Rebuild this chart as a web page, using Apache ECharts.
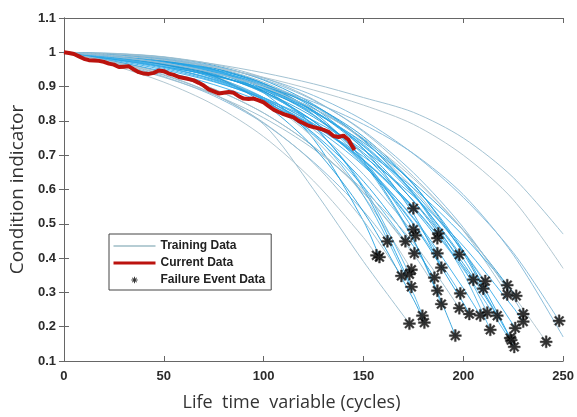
<!DOCTYPE html>
<html><head><meta charset="utf-8">
<script src="https://cdn.jsdelivr.net/npm/echarts@6/dist/echarts.min.js"></script>
<style>html,body{margin:0;padding:0;background:#fff}#c{width:577px;height:417px}</style>
</head><body><div id="c"></div>
<script>
// x positions (cycles) at which the training curves were read
const gridX = [0, 25, 50, 75, 100, 125, 150, 175, 200, 225, 250];

// failure events (end point of each training run)
const failX = [175, 175, 176, 187.5, 187, 162, 171, 156.5, 158, 175.5, 187, 198, 189, 174, 173, 169, 185.5, 205, 211, 210, 174, 187, 198.5, 222, 222, 226.5, 189, 198, 203, 208.5, 212, 217, 230, 230, 179.5, 180.5, 173, 226, 213.5, 196, 223.5, 224, 225.5, 241.5, 248];
const failY = [0.545, 0.483, 0.466, 0.472, 0.458, 0.449, 0.449, 0.408, 0.403, 0.414, 0.414, 0.410, 0.372, 0.366, 0.353, 0.348, 0.343, 0.337, 0.333, 0.311, 0.316, 0.305, 0.297, 0.321, 0.294, 0.290, 0.266, 0.254, 0.237, 0.233, 0.241, 0.232, 0.237, 0.215, 0.232, 0.212, 0.209, 0.196, 0.191, 0.174, 0.167, 0.161, 0.141, 0.156, 0.217];

// training runs: values at gridX (the run then ends at its failure event)
const trainingCurves = [
  [1, .991, .976, .946, .895, .816, .702],
  [1, .985, .967, .941, .896, .818, .688],
  [1, .986, .965, .927, .867, .775, .644],
  [1, .994, .981, .954, .905, .830, .719, .566],
  [1, .982, .957, .921, .868, .791, .685, .543],
  [1, .969, .929, .873, .793, .680, .537],
  [1, .988, .968, .929, .862, .758, .608],
  [1, .961, .913, .847, .754, .625, .460],
  [1, .992, .979, .950, .882, .747, .508],
  [1, .974, .940, .893, .823, .725, .592],
  [1, .989, .970, .937, .882, .799, .678, .515],
  [1, .996, .986, .962, .919, .848, .745, .589],
  [1, .987, .972, .950, .909, .838, .718, .529],
  [1, .991, .971, .932, .861, .750, .582],
  [1, .987, .971, .943, .887, .785, .608],
  [1, .971, .933, .878, .795, .677, .509],
  [1, .986, .964, .925, .861, .764, .624, .435],
  [1, .979, .953, .916, .862, .787, .685, .550, .376],
  [1, .994, .982, .957, .913, .843, .742, .603, .420],
  [1, .982, .963, .939, .902, .845, .754, .616, .414],
  [1, .990, .976, .949, .893, .786, .601],
  [1, .974, .940, .893, .823, .725, .590, .412],
  [1, .989, .970, .937, .882, .798, .677, .502],
  [1, .984, .964, .933, .889, .825, .737, .620, .481],
  [1, .997, .987, .965, .926, .862, .768, .638, .480],
  [1, .977, .949, .914, .866, .801, .715, .604, .465],
  [1, .987, .972, .947, .901, .818, .677, .452],
  [1, .967, .927, .877, .809, .718, .599, .445],
  [1, .991, .975, .942, .886, .799, .672, .498, .269],
  [1, .981, .957, .919, .863, .782, .669, .518, .312],
  [1, .980, .958, .931, .891, .829, .732, .587, .373],
  [1, .986, .967, .935, .885, .811, .707, .567, .384],
  [1, .994, .983, .960, .921, .860, .771, .649, .489, .284],
  [1, .974, .944, .906, .854, .786, .696, .581, .435, .256],
  [1, .982, .961, .928, .868, .762, .582, .297],
  [1, .993, .974, .931, .851, .723, .535, .280],
  [1, .972, .935, .878, .790, .600, .390],
  [1, .989, .972, .944, .897, .828, .728, .594, .419],
  [1, .985, .968, .945, .907, .845, .744, .588, .356],
  [1, .990, .977, .954, .909, .826, .683, .455],
  [1, .980, .958, .932, .894, .836, .747, .614, .421],
  [1, .991, .977, .949, .902, .830, .726, .584, .398],
  [1, .982, .957, .922, .868, .792, .687, .548, .368],
  [1, .987, .969, .940, .898, .835, .749, .632, .482, .292],
  [1, .992, .979, .958, .925, .874, .802, .704, .577, .416]
];
// training runs that continue past the right edge
const openCurves = [
  [1, .995, .985, .966, .940, .908, .868, .825, .750, .635, .470],
  [1, .990, .977, .956, .927, .890, .846, .790, .700, .570, .370],
  [1, .988, .968, .940, .903, .855, .790, .705, .585, .410, .170]
];

// current run
const currentX = [0, 2.5, 5, 7.5, 10, 12.5, 15, 17.5, 20, 22.5, 25, 27.5, 30, 32.5, 35, 37.5, 40, 42.5, 45, 47.5, 50, 52.5, 55, 57.5, 60, 62.5, 65, 67.5, 70, 72.5, 75, 77.5, 80, 82.5, 85, 87.5, 90, 92.5, 95, 97.5, 100, 102.5, 105, 107.5, 110, 112.5, 115, 117.5, 120, 122.5, 125, 127.5, 130, 132.5, 135, 137.5, 140, 142.5, 144, 145.5];
const currentY = [1.0, 0.998, 0.995, 0.988, 0.981, 0.977, 0.976, 0.975, 0.972, 0.967, 0.964, 0.957, 0.958, 0.959, 0.950, 0.942, 0.938, 0.937, 0.940, 0.947, 0.945, 0.938, 0.934, 0.928, 0.925, 0.922, 0.918, 0.911, 0.903, 0.892, 0.886, 0.880, 0.882, 0.884, 0.882, 0.872, 0.865, 0.864, 0.865, 0.860, 0.854, 0.843, 0.833, 0.826, 0.820, 0.815, 0.810, 0.800, 0.793, 0.786, 0.782, 0.778, 0.774, 0.768, 0.756, 0.753, 0.757, 0.745, 0.730, 0.715];

const xTicks = { min: 0, max: 250, interval: 50 };
const yTicks = { min: 0.1, max: 1.1, interval: 0.1 };

// styling: saturated blue for the main bundle, greyish blue for the outlying runs
const strongColors = ['#169de3', '#2aa7e8', '#45b0e8', '#1c96d6'];
const paleColors = ['#9dbfd0', '#aec4cf', '#86bbd9'];
const paleRuns = [2, 5, 7, 9, 13, 15, 18, 21, 24, 27, 32, 36, 43, 44];
const starPath = 'path://M0 8.5L20 8.5L20 11.5L0 11.5Z M8.5 0L11.5 0L11.5 20L8.5 20Z M4 1.8L18.2 16L16 18.2L1.8 4Z M1.8 16L16 1.8L18.2 4L4 18.2Z';
// same star with empty margin so the legend glyph is drawn smaller
const legendStarPath = 'path://M-9 -9L-9 -9Z M29 29L29 29Z M0 8.5L20 8.5L20 11.5L0 11.5Z M8.5 0L11.5 0L11.5 20L8.5 20Z M4 1.8L18.2 16L16 18.2L1.8 4Z M1.8 16L16 1.8L18.2 4L4 18.2Z';

function runStyle(i, pale) {
  const col = pale ? paleColors[i % paleColors.length] : strongColors[i % strongColors.length];
  return { width: 1, color: col, opacity: pale ? 0.95 : 0.85 };
}

const series = [];
trainingCurves.forEach((c, i) => {
  const d = c.map((v, k) => [gridX[k], v]);
  d.push([failX[i], failY[i]]);
  series.push({
    name: 'Training Data', type: 'line', data: d, symbol: 'none', showSymbol: false, smooth: 0.3,
    lineStyle: runStyle(i, paleRuns.indexOf(i) >= 0), silent: true, z: 2
  });
});
openCurves.forEach((c, i) => {
  series.push({
    name: 'Training Data', type: 'line', data: c.map((v, k) => [gridX[k], v]), symbol: 'none', showSymbol: false, smooth: 0.3,
    lineStyle: runStyle(i, true), silent: true, z: 2
  });
});
series.push({
  name: 'Current Data', type: 'line', data: currentX.map((x, k) => [x, currentY[k]]), symbol: 'none', showSymbol: false,
  lineStyle: { width: 4, color: '#bb130e' }, z: 3
});
series.push({
  name: 'Failure Event Data', type: 'scatter', data: failX.map((x, k) => [x, failY[k]]), symbol: starPath, symbolSize: 12,
  itemStyle: { color: '#000', borderColor: '#333', borderWidth: 0.5 }, z: 4
});

const font = "'Liberation Sans', Arial, sans-serif";
const nameFont = "'Open Sans', 'Noto Sans', sans-serif";
const tickLabel = { color: '#2b2b2b', fontSize: 13, fontWeight: 'bold', fontFamily: font };
const axisLine = { show: true, lineStyle: { color: '#666', width: 1 } };
const axisTick = { show: true, inside: true, length: 5, lineStyle: { color: '#666' } };

const chart = echarts.init(document.getElementById('c'), null, { renderer: 'canvas' });
chart.setOption({
  animation: false,
  backgroundColor: '#fff',
  grid: { left: 62, right: 12, top: 18, bottom: 52, containLabel: false },
  legend: {
    orient: 'vertical', left: 109, top: 234,
    data: [
      { name: 'Training Data', lineStyle: { color: '#a9c4cc', width: 2 }, itemStyle: { opacity: 0 } },
      { name: 'Current Data', lineStyle: { color: '#bb130e', width: 3 }, itemStyle: { opacity: 0 } },
      { name: 'Failure Event Data', icon: legendStarPath, itemStyle: { color: '#000', borderWidth: 0 } }
    ],
    itemWidth: 42, itemHeight: 12, itemGap: 5, itemTextGap: 4,
    padding: [6, 6, 4, 3],
    borderColor: '#444', borderWidth: 1, backgroundColor: '#fff',
    textStyle: { color: '#222', fontSize: 12, fontWeight: 'bold', fontFamily: font }
  },
  xAxis: [
    { type: 'value', ...xTicks, axisLine: axisLine, axisTick: axisTick, splitLine: { show: false },
      axisLabel: { ...tickLabel, margin: 9 },
      name: 'Life  time  variable (cycles)', nameLocation: 'middle', nameGap: 33,
      nameTextStyle: { color: '#333', fontSize: 18, fontFamily: nameFont, padding: [0, 44, 0, 0] } },
    { type: 'value', position: 'top', ...xTicks, axisLine: axisLine, axisTick: axisTick, splitLine: { show: false }, axisLabel: { show: false } }
  ],
  yAxis: [
    { type: 'value', ...yTicks, axisLine: axisLine, axisTick: axisTick, splitLine: { show: false },
      axisLabel: { ...tickLabel, margin: 8 },
      name: 'Condition indicator', nameLocation: 'middle', nameGap: 35,
      nameTextStyle: { color: '#333', fontSize: 19, fontFamily: nameFont } },
    { type: 'value', position: 'right', ...yTicks, axisLine: axisLine, axisTick: axisTick, splitLine: { show: false }, axisLabel: { show: false } }
  ],
  series: series
});
</script></body></html>
